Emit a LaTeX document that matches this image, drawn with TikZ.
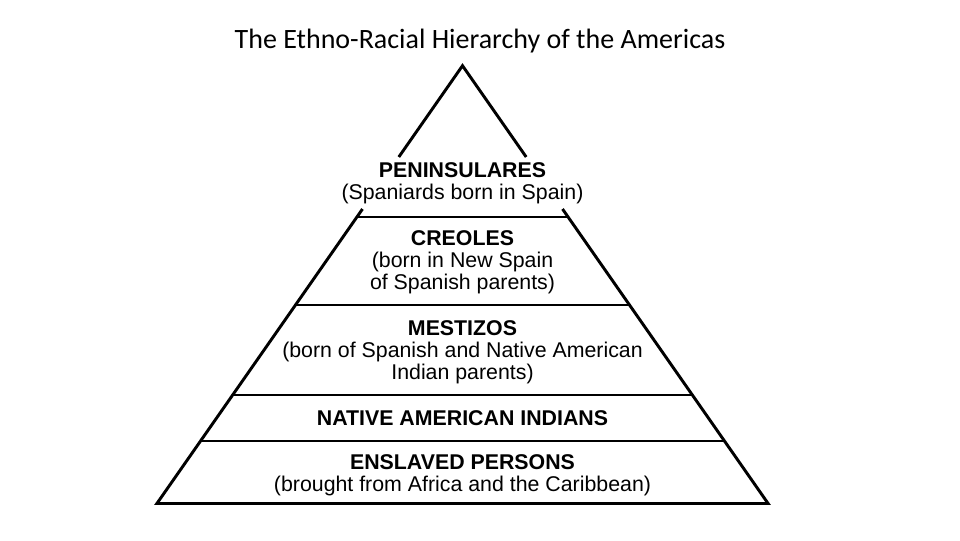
\documentclass[tikz,border=0pt]{standalone}
\usepackage{fontspec}
\setmainfont{Liberation Sans}
\newfontfamily\titlefont{Carlito}
\usetikzlibrary{positioning}

\tikzset{
  tierline/.style={line width=2.2pt, line join=miter, line cap=butt},
  tiertext/.style={align=center, inner sep=0pt, font=\fontsize{16}{16.5}\selectfont},
  caption/.style={font=\titlefont\fontsize{21}{24}\selectfont, inner sep=0pt}
}

\begin{document}
\begin{tikzpicture}[x=0.75pt, y=-0.75pt]
  \useasboundingbox[fill=white] (0,0) rectangle (960,540);

  \node[caption] (title) at (480,41) {The Ethno-Racial Hierarchy of the Americas};

  \coordinate (apex) at (462.5,65.7);
  \coordinate (gapl) at (398.8,157);
  \coordinate (gapr) at (526.2,157);
  \coordinate (resl) at (362.5,209);
  \coordinate (resr) at (562.5,209);
  \coordinate (l1) at (356.9,217);
  \coordinate (r1) at (568.1,217);
  \coordinate (l2) at (295.5,305);
  \coordinate (r2) at (629.5,305);
  \coordinate (l3) at (232.6,395);
  \coordinate (r3) at (692.4,395);
  \coordinate (l4) at (200.5,441);
  \coordinate (r4) at (724.5,441);
  \coordinate (bl) at (156.9,503.5);
  \coordinate (br) at (768.1,503.5);

  \draw[tierline] (gapl) -- (apex) -- (gapr);
  \draw[tierline] (resl) -- (bl) -- (br) -- (resr);
  \draw[tierline] (l1) -- (r1);
  \draw[tierline] (l2) -- (r2);
  \draw[tierline] (l3) -- (r3);
  \draw[tierline] (l4) -- (r4);

  \node[tiertext] (peninsulares) at (462.5,183) {\textbf{PENINSULARES}\\(Spaniards born in Spain)};
  \node[tiertext] (creoles) at (462.5,262) {\textbf{CREOLES}\\(born in New Spain\\of Spanish parents)};
  \node[tiertext] (mestizos) at (462.5,352) {\textbf{MESTIZOS}\\(born of Spanish and Native American\\Indian parents)};
  \node[tiertext] (natives) at (462.5,418) {\textbf{NATIVE AMERICAN INDIANS}};
  \node[tiertext] (enslaved) at (462.5,475) {\textbf{ENSLAVED PERSONS}\\(brought from Africa and the Caribbean)};
\end{tikzpicture}
\end{document}
